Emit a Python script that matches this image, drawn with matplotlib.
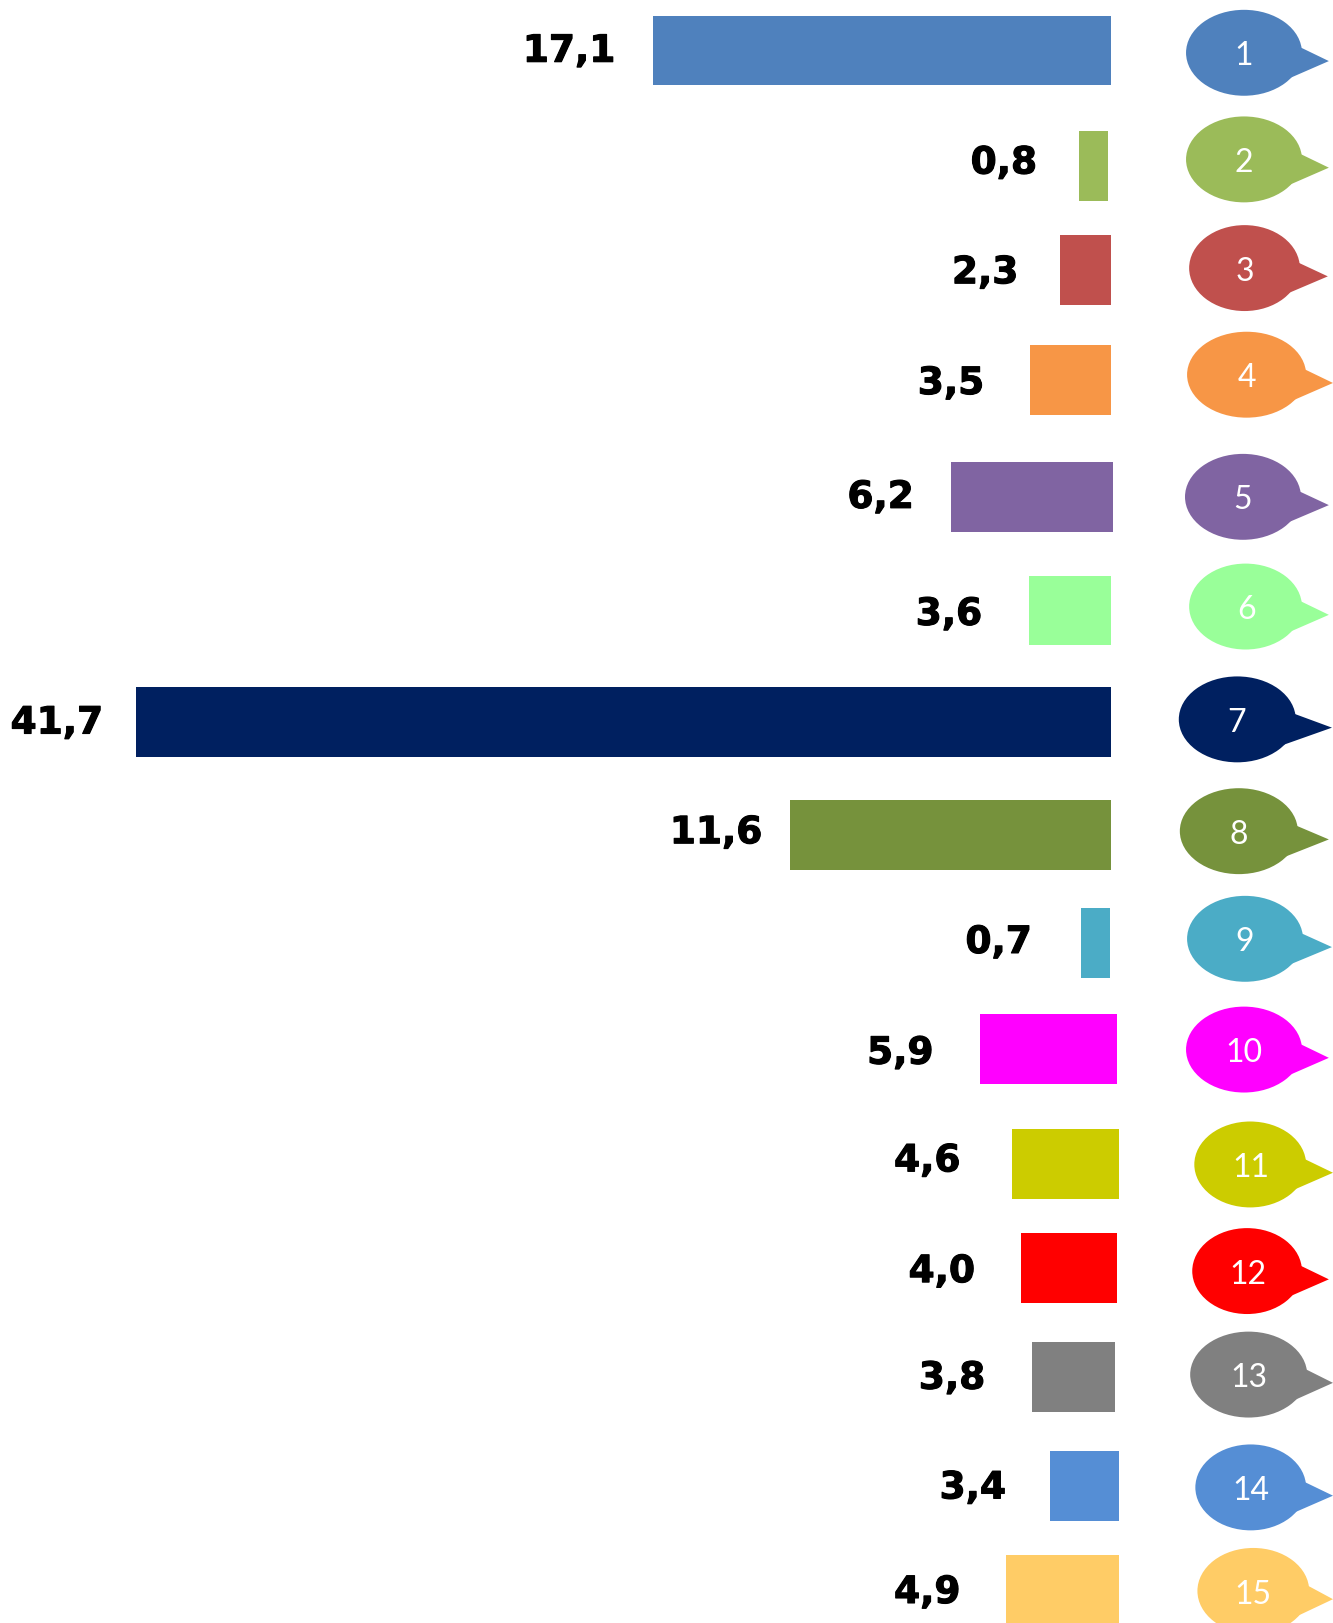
import matplotlib
matplotlib.use('Agg')
import matplotlib.pyplot as plt
import matplotlib.patheffects as pe
from matplotlib.patches import Ellipse, Polygon

#
# data: the printed values and the bar lengths as drawn in the picture
# (the drawn lengths do not follow the printed values exactly)
#
numbers = ['1', '2', '3', '4', '5', '6', '7', '8', '9', '10', '11', '12', '13', '14', '15']
values = [17.1, 0.8, 2.3, 3.5, 6.2, 3.6, 41.7, 11.6, 0.7, 5.9, 4.6, 4.0, 3.8, 3.4, 4.9]
bar_lengths = [443, 28, 49, 78, 156, 79, 942, 310, 28, 132, 104, 92, 80, 67, 109]

colors = ['#4F81BD', '#9BBB59', '#C0504D', '#F79646', '#8064A2', '#99FF99', '#002060', '#76923C',
          '#4BACC6', '#FF00FF', '#CCCC00', '#FF0000', '#808080', '#558ED5', '#FFCC66']

#
# layout, in pixels of the 1288 x 1568 view
#
bar_right = [1073.5, 1071, 1073.5, 1073.5, 1075, 1073.5, 1073.5, 1073.5, 1072.5, 1079, 1081.5, 1079, 1077.5, 1081.5, 1081.5]
bar_top = [15, 127, 227, 333, 446, 556, 664, 773, 877, 980, 1091, 1191, 1297, 1402, 1502]
bar_height = 67.5
label_x = [550, 970, 952, 919, 851, 917, 55, 692, 965, 870, 896, 910, 920, 940, 896]
label_y = [50, 158, 264, 371, 481, 594, 699, 805, 911, 1018, 1122, 1229, 1332, 1438, 1539]

bubble_left = [1146, 1146, 1149, 1147, 1145, 1149, 1139, 1140, 1147, 1146, 1154, 1152, 1150, 1155, 1157]
bubble_right = [1258, 1258, 1256, 1262, 1257, 1258, 1252, 1254, 1259, 1258, 1262, 1258, 1263, 1262, 1265]
bubble_y = [51, 154, 259, 362, 480, 586, 695, 803, 907, 1014, 1125, 1228, 1328, 1437, 1537]
tail_tip = [1284, 1284, 1283, 1288, 1284, 1284, 1287, 1284, 1287, 1284, 1288, 1284, 1288, 1288, 1288]
number_x = [1202, 1202, 1203, 1205, 1201, 1204, 1195, 1197, 1203, 1202, 1209, 1206, 1207, 1209, 1211]

fig = plt.figure(figsize=(13.33, 16.23), dpi=100)
ax = fig.add_axes([0, 0, 1, 1])
ax.set_xlim(0, 1288)
ax.set_ylim(1568, 0)
ax.axis('off')

for i in range(len(values)):
    ax.barh(bar_top[i] + bar_height / 2, bar_lengths[i], height=bar_height,
            left=bar_right[i] - bar_lengths[i], color=colors[i])
    t = ax.text(label_x[i], label_y[i], str(values[i]).replace('.', ','), fontsize=27,
                fontweight='bold', family='DejaVu Sans', color='black', ha='center', va='center')
    t.set_path_effects([pe.withStroke(linewidth=0.8, foreground='black')])

    # speech bubble: ellipse plus a pointed tail
    by = bubble_y[i]
    right = bubble_right[i]
    cx = (bubble_left[i] + right) / 2
    ax.add_patch(Ellipse((cx, by), right - bubble_left[i], 83, color=colors[i], lw=0))
    ax.add_patch(Polygon([(right - 3, by - 6), (tail_tip[i], by + 8), (right - 13, by + 25), (cx, by)],
                         closed=True, color=colors[i], lw=0))
    ax.text(number_x[i], by + 3.5, numbers[i], fontsize=23, family='Lato', color='white', ha='center', va='center')

fig.savefig('out.png', dpi=100)
